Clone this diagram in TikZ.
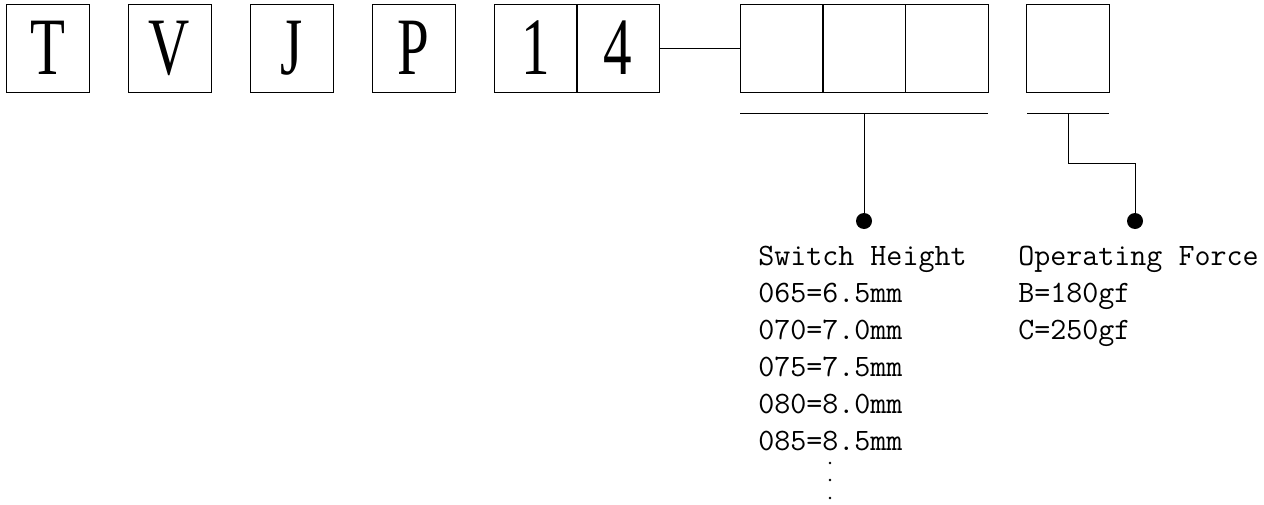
\documentclass[tikz,border=0pt]{standalone}
\usepackage{fontspec}
\usetikzlibrary{calc}
\newfontfamily\codefont{Liberation Serif}

\newcommand{\tall}[1]{\scalebox{0.7}[1]{#1}}

\begin{document}
\begin{tikzpicture}[x=0.02cm,y=-0.02cm]
\tikzstyle{code}=[draw,minimum width=1.66cm,minimum height=1.76cm,inner sep=0,text height=30.7pt,text depth=0pt,font=\codefont\fontsize{46.4}{46}\selectfont]
\tikzstyle{blank}=[draw,minimum width=1.66cm,minimum height=1.76cm,inner sep=0]
\tikzstyle{pin}=[circle,fill=black,inner sep=0cm,minimum size=0.32cm]
\tikzstyle{legend}=[anchor=base west,inner sep=0,font=\ttfamily\fontsize{17.7}{21}\selectfont]
\useasboundingbox (0,0) rectangle (1264,504);
% fixed part
\node [code] (t) at (47.5,48) {\tall{T}};
\node [code] (v) at (169.5,48) {\tall{V}};
\node [code] (j) at (291.5,48) {\tall{J}};
\node [code] (p) at (413.5,48) {\tall{P}};
\node [code] (one) at (535.5,48) {\tall{1}};
\node [code] (four) at (618,48) {\tall{4}};
% variable part
\node [blank] (h1) at (781.5,48) {};
\node [blank] (h2) at (864,48) {};
\node [blank] (h3) at (946.5,48) {};
\node [blank] (f) at (1068,48) {};
\draw (four.east) -- (h1.west);
% height
\coordinate (hl) at (740,113);
\coordinate (hr) at (988,113);
\coordinate (hs) at (864,113);
\draw (hl) -- (hr);
\node [pin] (hdot) at (864,221) {};
\draw (hs) -- (hdot.center);
% force
\coordinate (fl) at (1027,113);
\coordinate (fr) at (1109,113);
\coordinate (fs) at (1068,113);
\coordinate (fk) at (1068,163);
\draw (fl) -- (fr);
\node [pin] (fdot) at (1135,221) {};
\draw (fs) -- (fk) -| (fdot.center);
% texts
\node [legend] (htitle) at (758,265) {Switch Height};
\node [legend] (h065) at (758,302) {065=6.5mm};
\node [legend] (h070) at (758,339) {070=7.0mm};
\node [legend] (h075) at (758,376) {075=7.5mm};
\node [legend] (h080) at (758,413) {080=8.0mm};
\node [legend] (h085) at (758,450) {085=8.5mm};
\node [legend] (ftitle) at (1018,265) {Operating Force};
\node [legend] (fb) at (1018,302) {B=180gf};
\node [legend] (fc) at (1018,339) {C=250gf};
\foreach \y in {463,480,498}
  \fill (830,\y) circle (1.3);
\end{tikzpicture}
\end{document}
